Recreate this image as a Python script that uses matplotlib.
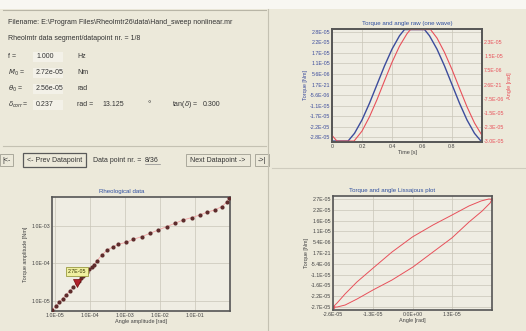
import matplotlib
matplotlib.use("Agg")
import matplotlib.pyplot as plt
from matplotlib.patches import Rectangle

plt.rcParams['font.family'] = ['Liberation Sans', 'DejaVu Sans']

# ---- data ----
# raw wave (values in 1e-5), clipped at the plot border like the original
wave_t = [0.0, 0.05, 0.107, 0.15, 0.20, 0.25, 0.30, 0.35, 0.40, 0.45, 0.483,
          0.55, 0.617, 0.65, 0.70, 0.75, 0.80, 0.85, 0.90, 0.95, 0.993, 1.0]
torque_wave = [-3.0, -3.0, -3.0, -2.59, -1.88, -0.99, 0.0, 0.99, 1.88, 2.59, 2.92,
               2.92, 2.92, 2.59, 1.88, 0.99, 0.0, -0.99, -1.88, -2.59, -3.0, -3.0]
angle_t = [0.0, 0.033, 0.147, 0.20, 0.25, 0.30, 0.35, 0.40, 0.45, 0.50, 0.523,
           0.657, 0.70, 0.75, 0.80, 0.85, 0.90, 0.95, 1.0]
angle_wave = [-2.70, -3.0, -3.0, -2.47, -1.71, -0.80, 0.20, 1.18, 2.04, 2.70, 2.92,
              2.92, 2.47, 1.71, 0.80, -0.20, -1.18, -2.04, -2.70]
wave_torque_ticks = [2.8, 2.24, 1.68, 1.12, 0.56, 0.0, -0.56, -1.12, -1.68, -2.24, -2.8]
wave_torque_labels = ["2.8E-05", "2.2E-05", "1.7E-05", "1.1E-05", "5.6E-06", "1.7E-21",
                      "-5.6E-06", "-1.1E-05", "-1.7E-05", "-2.2E-05", "-2.8E-05"]
wave_angle_ticks = [2.25, 1.5, 0.75, 0.0, -0.75, -1.5, -2.25, -3.0]
wave_angle_labels = ["2.3E-05", "1.5E-05", "7.5E-06", "2.6E-21",
                     "-7.5E-06", "-1.5E-05", "-2.3E-05", "-3.0E-05"]
time_ticks = [0, 0.2, 0.4, 0.6, 0.8]
time_labels = ["0", "0.2", "0.4", "0.6", "0.8"]

# rheological data, 36 datapoints (angle amplitude, torque amplitude)
amp_angle = [8.13e-6, 1.02e-5, 1.29e-5, 1.62e-5, 2.04e-5, 2.63e-5, 3.31e-5, 4.17e-5,
             4.79e-5, 5.50e-5, 6.31e-5, 7.24e-5, 8.32e-5, 9.55e-5, 1.10e-4, 1.26e-4,
             1.55e-4, 2.15e-4, 3.13e-4, 4.65e-4, 6.46e-4, 1.07e-3, 1.73e-3, 2.99e-3,
             5.18e-3, 8.95e-3, 1.55e-2, 2.69e-2, 4.65e-2, 8.04e-2, 0.139, 0.215,
             0.372, 0.578, 0.804, 0.957]
amp_torque = [5.62e-6, 7.24e-6, 9.12e-6, 1.15e-5, 1.45e-5, 1.86e-5, 2.34e-5, 3.02e-5,
              3.47e-5, 3.98e-5, 4.57e-5, 5.25e-5, 6.03e-5, 6.92e-5, 7.94e-5, 9.12e-5,
              1.16e-4, 1.68e-4, 2.29e-4, 2.81e-4, 3.24e-4, 3.66e-4, 4.41e-4, 5.19e-4,
              6.37e-4, 7.82e-4, 9.59e-4, 1.18e-3, 1.45e-3, 1.67e-3, 1.96e-3, 2.31e-3,
              2.67e-3, 3.27e-3, 4.28e-3, 5.46e-3]
current_point = 8  # "Data point nr. = 8/36"
current_label = "2.7E-05"
rheo_xticks = [1e-5, 1e-4, 1e-3, 1e-2, 1e-1]
rheo_xlabels = ["1.0E-05", "1.0E-04", "1.0E-03", "1.0E-02", "1.0E-01"]
rheo_yticks = [1e-5, 1e-4, 1e-3]
rheo_ylabels = ["1.0E-05", "1.0E-04", "1.0E-03"]

# lissajous (values in 1e-5)
liss_angle = [-2.56, -2.43, -2.17, -1.79, -1.27, -0.66, 0.0, 0.66, 1.27, 1.82, 2.21, 2.46, 2.56,
              2.50, 2.24, 1.82, 1.27, 0.66, 0.02, -0.66, -1.27, -1.79, -2.17, -2.43, -2.56]
liss_torque = [-2.72, -2.52, -2.06, -1.46, -0.76, 0.05, 0.81, 1.41, 1.91, 2.37, 2.62, 2.72, 2.70,
               2.52, 2.11, 1.56, 0.76, 0.05, -0.70, -1.36, -1.86, -2.32, -2.62, -2.72, -2.72]
liss_xticks = [-2.56, -1.28, 0.0, 1.28]
liss_xlabels = ["-2.6E-05", "-1.3E-05", "0.0E+00", "1.3E-05"]
liss_yticks = [2.72, 2.18, 1.63, 1.09, 0.54, 0.0, -0.54, -1.09, -1.63, -2.18, -2.72]
liss_ylabels = ["2.7E-05", "2.2E-05", "1.6E-05", "1.1E-05", "5.4E-06", "1.7E-21",
                "-5.4E-06", "-1.1E-05", "-1.6E-05", "-2.2E-05", "-2.7E-05"]

# panel info text
info_rows = [("f =", "1.000", "Hz"),
             ("$M_0$ =", "2.72e-05", "Nm"),
             (r"$\theta_0$ =", "2.56e-05", "rad")]

bg = '#ECE9DA'
inner = '#EFEDE3'
txt = '#333333'
blue = '#3C4C9C'
red = '#E8505A'

fig = plt.figure(figsize=(5.26, 3.31), dpi=100)
fig.patch.set_facecolor(bg)

# the GUI around the plots, drawn in pixel coords
ui = fig.add_axes([0, 0, 1, 1])
ui.set_xlim(0, 526)
ui.set_ylim(331, 0)
ui.axis('off')
ui.add_patch(Rectangle((0, 0), 526, 9, fc='#F8F7F2', ec='none'))
ui.plot([3, 266], [10, 10], color='#B8B5A6', lw=0.8)
ui.plot([3, 266], [146, 146], color='#C4C1B2', lw=0.8)
ui.plot([268, 268], [9, 331], color='#C4C1B2', lw=0.8)
ui.plot([272, 526], [168, 168], color='#CFCCBE', lw=0.8)

fs = 5.0
ui.text(8, 22, r"Filename: E:\Program Files\Rheolmtr26\data\Hand_sweep nonlinear.mr",
        fontsize=fs, color=txt, va='center')
ui.text(8, 38, "Rheolmtr data segment/datapoint nr. = 1/8", fontsize=fs, color=txt, va='center')
for i, (name, val, unit) in enumerate(info_rows):
    y = 57 + i * 16
    ui.text(8, y, name, fontsize=fs, color=txt, va='center')
    ui.add_patch(Rectangle((33, y - 5), 30, 10, fc='#F3F1E8', ec='none'))
    ui.text(36, y, val, fontsize=fs, color=txt, va='center')
    ui.text(77, y, unit, fontsize=fs, color=txt, va='center')
y = 105
ui.text(8, y, r"$\delta_{corr}$=", fontsize=fs, color=txt, va='center')
ui.add_patch(Rectangle((33, y - 5), 30, 10, fc='#F3F1E8', ec='none'))
ui.text(36, y, "0.237", fontsize=fs, color=txt, va='center')
ui.text(77, y, "rad =", fontsize=fs, color=txt, va='center')
ui.text(102, y, "13.125", fontsize=fs, color=txt, va='center')
ui.text(147, y, "\u00b0", fontsize=fs + 1, color=txt, va='center')
ui.text(172, y, r"tan($\delta$) =", fontsize=fs, color=txt, va='center')
ui.text(203, y, "0.300", fontsize=fs, color=txt, va='center')

# navigation buttons
ui.add_patch(Rectangle((0, 154), 13, 12, fc=bg, ec='#A09E92', lw=0.6))
ui.text(6.5, 160, "|<-", fontsize=fs, color=txt, ha='center', va='center')
ui.add_patch(Rectangle((23, 153), 63, 14, fc=bg, ec='#5A5A5A', lw=0.9))
ui.text(54.5, 160, "<- Prev Datapoint", fontsize=fs, color=txt, ha='center', va='center')
ui.text(93, 160, "Data point nr. =", fontsize=fs, color=txt, va='center')
ui.text(145, 160, "8/36", fontsize=fs, color=txt, va='center')
ui.plot([145, 160], [164, 164], color='#8A8A8A', lw=0.5)
ui.add_patch(Rectangle((186, 154), 64, 12, fc=bg, ec='#A09E92', lw=0.6))
ui.text(218, 160, "Next Datapoint ->", fontsize=fs, color=txt, ha='center', va='center')
ui.add_patch(Rectangle((255, 154), 14, 12, fc=bg, ec='#A09E92', lw=0.6))
ui.text(262, 160, "->|", fontsize=fs, color=txt, ha='center', va='center')


def style(ax):
    ax.set_facecolor(inner)
    for s in ax.spines.values():
        s.set_color('#555555')
        s.set_linewidth(1.2)
    ax.tick_params(length=0, pad=1.5, labelsize=3.8, colors='#444444')
    ax.grid(True, color='#C9C6B8', lw=0.5)
    ax.set_axisbelow(True)


# ---- raw wave ----
ax1 = fig.add_axes([332 / 526, 1 - 142 / 331, 150 / 526, 113 / 331])
style(ax1)
ax1.plot(wave_t, [v * 1e-5 for v in torque_wave], color=blue, lw=1.0)
ax1.set_xlim(0, 1.0)
ax1.set_ylim(-3.05e-5, 2.95e-5)
ax1.set_xticks(time_ticks)
ax1.set_xticklabels(time_labels)
ax1.set_yticks([v * 1e-5 for v in wave_torque_ticks])
ax1.set_yticklabels(wave_torque_labels, color=blue)
ax1.set_ylabel("Torque [Nm]", fontsize=4, color=blue, labelpad=1)
ax1.set_xlabel("Time [s]", fontsize=4, color='#444444', labelpad=1)
ax1.set_title("Torque and angle raw (one wave)", fontsize=4.4, color='#2F4F9F', pad=3)
ax1r = ax1.twinx()
ax1r.plot(angle_t, [v * 1e-5 for v in angle_wave], color=red, lw=0.8)
ax1r.set_ylim(-3.05e-5, 2.95e-5)
ax1r.set_yticks([v * 1e-5 for v in wave_angle_ticks])
ax1r.set_yticklabels(wave_angle_labels, color=red)
ax1r.tick_params(length=0, pad=1.5, labelsize=3.8)
ax1r.set_ylabel("Angle [rad]", fontsize=4, color=red, labelpad=2)
for s in ax1r.spines.values():
    s.set_color('#555555')
    s.set_linewidth(1.2)

# ---- rheological data ----
ax2 = fig.add_axes([52 / 526, 1 - 311 / 331, 178 / 526, 114 / 331])
style(ax2)
ax2.set_xscale('log')
ax2.set_yscale('log')
ax2.plot(amp_angle, amp_torque, color='#F2A4A4', lw=0.6, zorder=2)
ax2.plot(amp_angle, amp_torque, 'o', color='#5E2C2C', ms=3.0, mew=0, zorder=3)
cx = amp_angle[current_point - 1]
cy = amp_torque[current_point - 1]
ax2.plot([cx], [cy], 'v', color='#B0202A', ms=6, mec='#7A1010', mew=0.5, zorder=4)
ax2.annotate(current_label, (cx, cy), xytext=(0, 9), textcoords='offset pixels',
             fontsize=3.8, color='#333300', ha='center', va='bottom', zorder=5,
             bbox=dict(boxstyle='square,pad=0.3', fc='#F0F0A0', ec='#9A9A40', lw=0.6))
ax2.set_xlim(8.1e-6, 1.0)
ax2.set_ylim(5.4e-6, 5.9e-3)
ax2.set_xticks(rheo_xticks)
ax2.set_xticklabels(rheo_xlabels)
ax2.set_yticks(rheo_yticks)
ax2.set_yticklabels(rheo_ylabels)
ax2.minorticks_off()
ax2.set_xlabel("Angle amplitude [rad]", fontsize=4, color='#444444', labelpad=1)
ax2.set_ylabel("Torque amplitude [Nm]", fontsize=4, color='#444444', labelpad=2)
ax2.set_title("Rheological data", fontsize=4.4, color='#2F4F9F', pad=3, x=0.39)

# ---- lissajous ----
ax3 = fig.add_axes([333 / 526, 1 - 310 / 331, 159 / 526, 114 / 331])
style(ax3)
ax3.plot([v * 1e-5 for v in liss_angle], [v * 1e-5 for v in liss_torque], color=red, lw=0.7)
ax3.plot([liss_angle[0] * 1e-5, liss_angle[12] * 1e-5],
         [liss_torque[0] * 1e-5, liss_torque[12] * 1e-5], 'o', color=red, ms=2.5, mew=0)
ax3.set_xlim(-2.56e-5, 2.56e-5)
ax3.set_ylim(-2.87e-5, 2.87e-5)
ax3.set_xticks([v * 1e-5 for v in liss_xticks])
ax3.set_xticklabels(liss_xlabels)
ax3.set_yticks([v * 1e-5 for v in liss_yticks])
ax3.set_yticklabels(liss_ylabels)
ax3.set_xlabel("Angle [rad]", fontsize=4, color='#444444', labelpad=1)
ax3.set_ylabel("Torque [Nm]", fontsize=4, color='#444444', labelpad=1)
ax3.set_title("Torque and angle Lissajous plot", fontsize=4.4, color='#2F4F9F', pad=3, x=0.37)

fig.savefig("out.png", dpi=100, facecolor=bg)
